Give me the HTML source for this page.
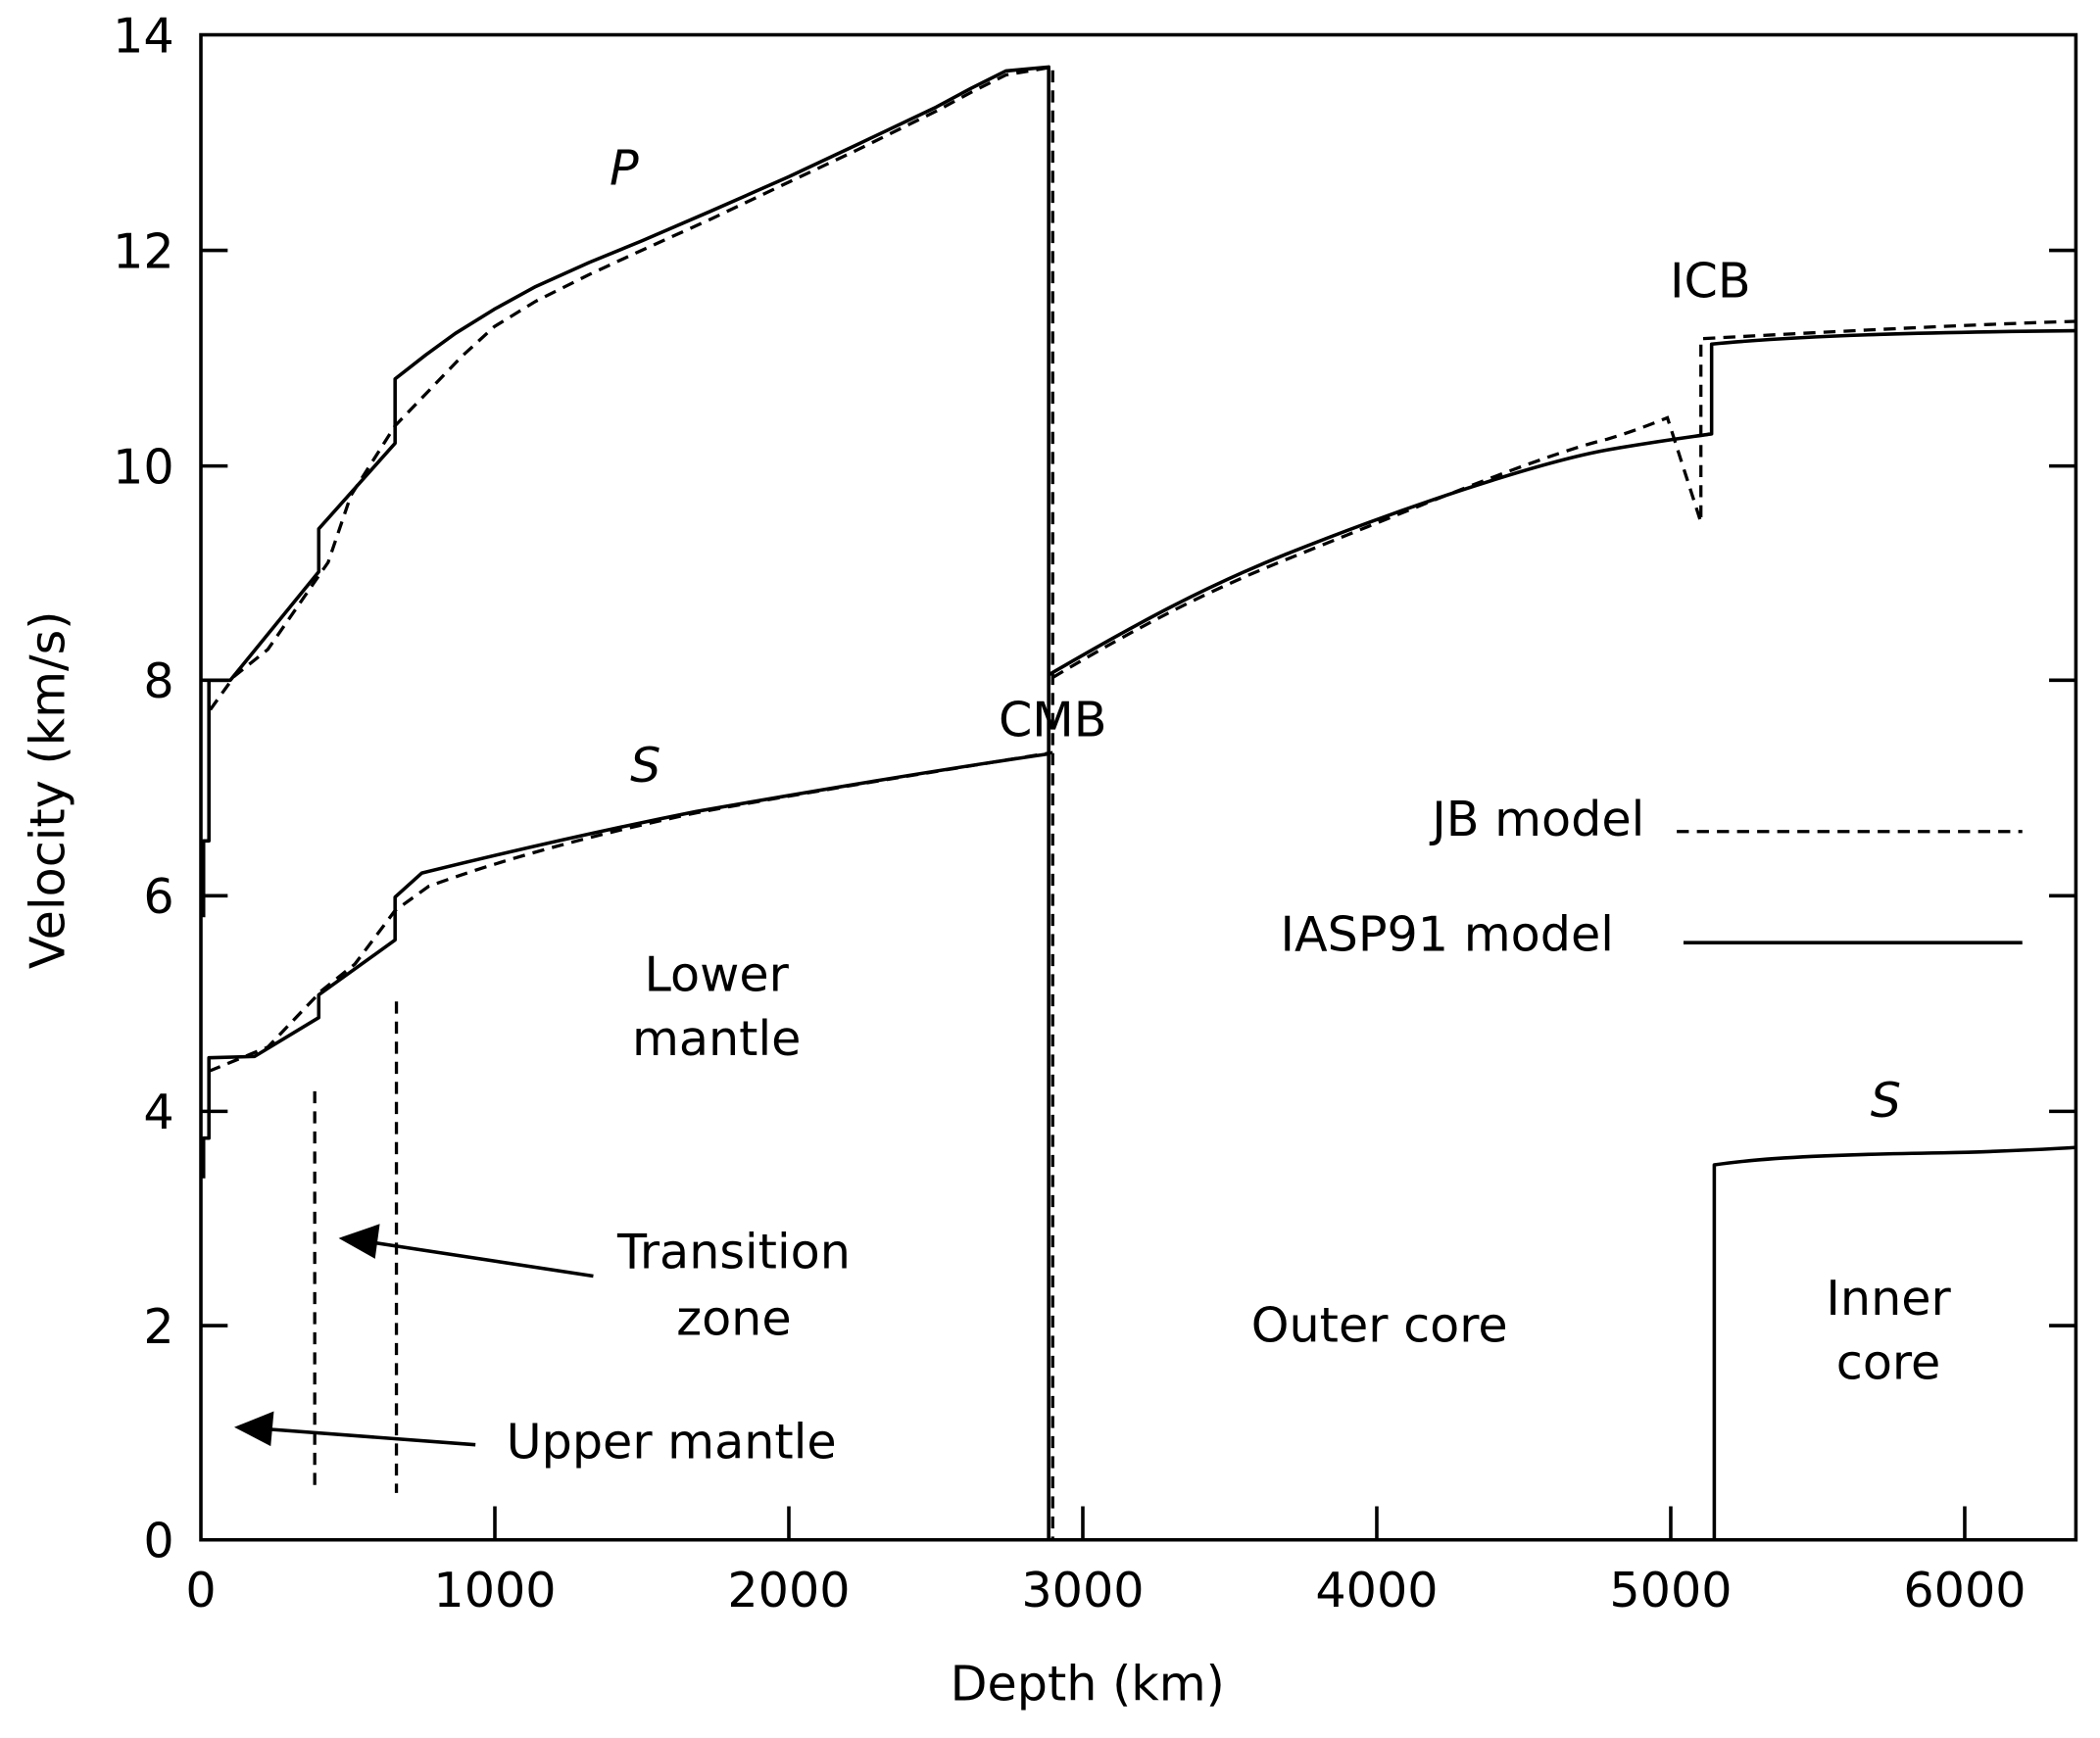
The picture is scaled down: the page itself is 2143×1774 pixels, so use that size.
<!DOCTYPE html>
<html><head><meta charset="utf-8"><style>
html,body{margin:0;padding:0;background:#fff;}
svg{display:block;}
text{font-family:"DejaVu Sans","Liberation Sans",sans-serif;fill:#000;}
</style></head><body>
<svg width="2143" height="1774" viewBox="0 0 1568 1298" preserveAspectRatio="none" xmlns="http://www.w3.org/2000/svg">
<g fill="none" stroke="#000" stroke-width="2.6">
<rect x="150" y="26" width="1400" height="1124"/>
<path d="M150 990h20M150 830h20M150 669h20M150 508h20M150 348h20M150 187h20
M1550 990h-20M1550 830h-20M1550 669h-20M1550 508h-20M1550 348h-20M1550 187h-20"/>
<path d="M369.5 1150v-25M589 1150v-25M808.5 1150v-25M1028 1150v-25M1247.5 1150v-25M1467 1150v-25"/>
</g>
<g fill="none" stroke="#000" stroke-width="2.6" stroke-linejoin="round">
<path d="M152 685V628H156V508H172L238 427V395L295 331V283L318 265L340 249L369 231L400 214L440 196L479 180L530 158L589 132L640 108L699 80L725 66L751 53L783 50V1150"/>
<path d="M783 504C850 465 900 438 960 414C1050 378 1150 345 1200 336C1240 329 1265 326 1278 324V257C1350 250 1450 248 1550 247"/>
<path d="M152 880V850H156V790L190 789L238 760V743L295 702V670L315 652C380 636 450 620 520 606C600 592 700 575 783 563"/>
<path d="M1280 1150V870C1320 864 1380 862 1450 861C1500 860 1530 858 1550 857"/>
<path d="M1257 704H1510"/>
</g>
<g fill="none" stroke="#000" stroke-width="2.4" stroke-dasharray="9,6">
<path d="M157 530L175 505L200 485L245 420L262 370L295 318L320 292L345 266L369 244L400 225L440 205L479 187L530 164L589 136L640 112L699 83L725 69L751 56L786 50V1150"/>
<path d="M786 506C850 468 900 442 960 418C1050 382 1150 340 1200 328C1220 322 1235 316 1245 312L1270 390V253C1380 247 1480 242 1550 240"/>
<path d="M156 800L200 782L240 740L265 720L295 680L320 662C380 640 450 622 520 607C600 592 700 576 786 562"/>
<path d="M235 815V1115M296 748V1115"/>
<path d="M1252 621H1510"/>
</g>
<g stroke="#000" stroke-width="2.6" fill="#000">
<line x1="443" y1="953" x2="272" y2="927"/>
<polygon points="256,925 282,916 279,938"/>
<line x1="355" y1="1079" x2="195" y2="1067"/>
<polygon points="178,1066 203,1056 201,1078"/>
</g>
<g font-size="36">
<g text-anchor="end">
<text x="130" y="1163">0</text><text x="130" y="1003">2</text><text x="130" y="843">4</text>
<text x="130" y="682">6</text><text x="130" y="521">8</text><text x="130" y="361">10</text>
<text x="130" y="200">12</text><text x="130" y="39">14</text>
</g>
<g text-anchor="middle">
<text x="150" y="1200">0</text><text x="369.5" y="1200">1000</text><text x="589" y="1200">2000</text>
<text x="808.5" y="1200">3000</text><text x="1028" y="1200">4000</text><text x="1247.5" y="1200">5000</text>
<text x="1467" y="1200">6000</text>
<text x="812" y="1270">Depth (km)</text>
<text transform="translate(48,590) rotate(-90)">Velocity (km/s)</text>
<text x="466" y="138" font-style="italic">P</text>
<text x="482" y="584" font-style="italic">S</text>
<text x="1408" y="834" font-style="italic">S</text>
<text x="786" y="550">CMB</text>
<text x="1277" y="222">ICB</text>
<text x="535" y="740">Lower</text><text x="535" y="788">mantle</text>
<text x="548" y="947">Transition</text><text x="548" y="997">zone</text>
<text x="1030" y="1002">Outer core</text>
<text x="1410" y="982">Inner</text><text x="1410" y="1030">core</text>
</g>
<text x="378" y="1089">Upper mantle</text>
<text x="1228" y="624" text-anchor="end">JB model</text>
<text x="1205" y="710" text-anchor="end">IASP91 model</text>
</g>
</svg>
</body></html>
